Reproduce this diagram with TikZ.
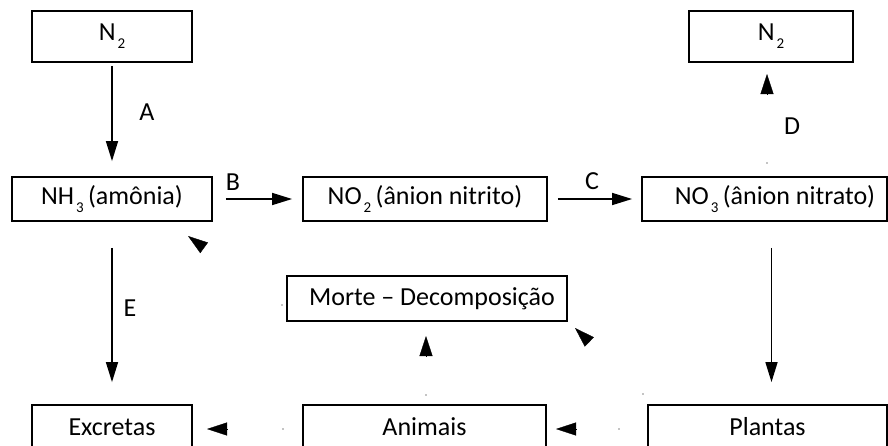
\documentclass[tikz,border=0pt]{standalone}
\usepackage{fontspec}
\setmainfont{Carlito}
\usetikzlibrary{arrows.meta,calc}
\newcommand{\chemsub}[1]{\hspace{2pt}\raisebox{-8pt}{\fontsize{15}{15}\selectfont #1}}
\tikzset{
  box/.style={draw, line width=1.8pt, minimum height=44pt, inner sep=0pt, font=\fontsize{26}{31}\selectfont},
  tag/.style={font=\fontsize{26}{31}\selectfont},
  flow/.style={line width=1.5pt, -{Triangle[length=20pt,width=12pt]}},
  headonly/.style={-{Triangle[length=20pt,width=13pt]}},
}
\begin{document}
\begin{tikzpicture}[x=1pt,y=-1pt]
\useasboundingbox (0,0) rectangle (888,445);
\clip (0,0) rectangle (888,445);
\node[box, minimum width=160pt, minimum height=51pt] (n2a) at (112,36.5){N\chemsub{2}};
\node[box, minimum width=164pt, minimum height=51pt] (n2b) at (771,36.5){N\chemsub{2}};
\node[box, minimum width=200pt] (nh3) at (112,199){NH\chemsub{3}\,(amônia)};
\node[box, minimum width=244pt] (no2) at (425,199){NO\chemsub{2}\,(ânion nitrito)};
\node[box, minimum width=245pt] (no3) at (764.5,199){\hspace*{21pt}NO\chemsub{3}\,(ânion nitrato)};
\node[box, minimum width=280pt, minimum height=45pt] (morte) at (427,298.5){\hspace*{10pt}Morte – Decomposição};
\node[box, minimum width=160pt] (excretas) at (112,427){Excretas};
\node[box, minimum width=243pt] (animais) at (424.5,427){Animais};
\node[box, minimum width=239pt] (plantas) at (767.5,427){Plantas};

\node[tag] (labA) at (147,112){A};
\node[tag] (labB) at (233,182){B};
\node[tag] (labC) at (592,181){C};
\node[tag] (labD) at (792,126){D};
\node[tag] (labE) at (130,308){E};

\draw[flow, shorten <=3pt, shorten >=15pt](n2a.south) -- (nh3.north);
\draw[flow, shorten <=26pt, shorten >=22pt](nh3.south) -- (excretas.north);
\draw[flow, shorten <=13pt, shorten >=10pt](nh3.east) -- (no2.west);
\draw[flow, shorten <=10pt, shorten >=9pt](no2.east) -- (no3.west);
\draw[flow, shorten <=26pt, shorten >=22pt]([xshift=7pt]no3.south) -- ([xshift=7pt]no3.south |- plantas.north);

% tails and tips of the arrows without shafts
\coordinate (dD) at (767,163);   \coordinate (tD) at (767,74);
\coordinate (dM) at (282,305);   \coordinate (tM) at (188,236);
\coordinate (dA) at (426,395);   \coordinate (tA) at (426,336);
\coordinate (dP) at (643,394);   \coordinate (tP) at (575,328);
\coordinate (dX) at (283,429);   \coordinate (tX) at (207,429);
\coordinate (dY) at (619,429);   \coordinate (tY) at (556,429);
\fill (dD) circle (0.7pt);
\fill (dM) circle (0.7pt);
\fill (dA) circle (0.7pt);
\fill (dP) circle (0.7pt);
\fill (dX) circle (0.7pt);
\fill (dY) circle (0.7pt);
\draw[headonly]($(tD)!20pt!(dD)$) -- (tD);
\draw[headonly]($(tM)!20pt!(dM)$) -- (tM);
\draw[headonly]($(tA)!20pt!(dA)$) -- (tA);
\draw[headonly]($(tP)!20pt!(dP)$) -- (tP);
\draw[headonly]($(tX)!20pt!(dX)$) -- (tX);
\draw[headonly]($(tY)!20pt!(dY)$) -- (tY);

\end{tikzpicture}
\end{document}
